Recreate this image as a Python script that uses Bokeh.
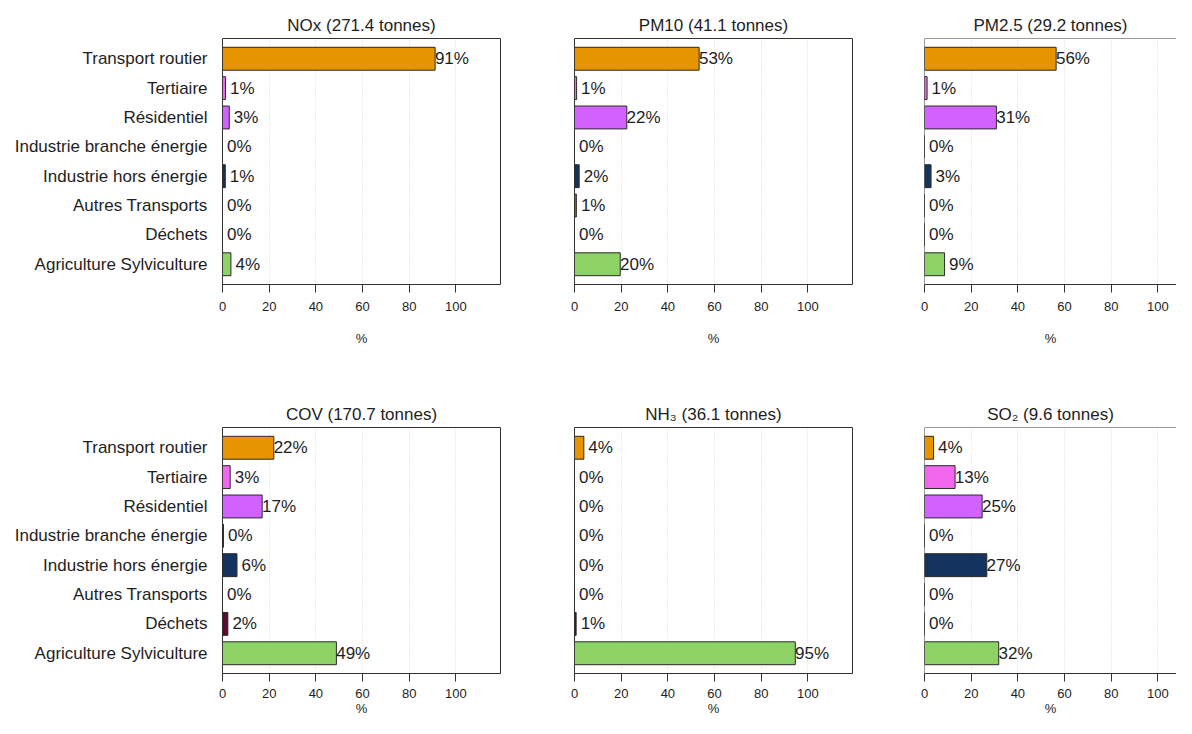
from bokeh.plotting import figure
from bokeh.models import Range1d, FixedTicker, ColumnDataSource, Span
from bokeh.layouts import row, column
from bokeh.embed import file_html
from bokeh.resources import INLINE
from bokeh.core.properties import value

categories = ["Transport routier", "Tertiaire", "Résidentiel",
              "Industrie branche énergie", "Industrie hors énergie",
              "Autres Transports", "Déchets", "Agriculture Sylviculture"]
bar_colors = ["#E69500", "#F266EE", "#D262FF", "#1A1A1A",
              "#14335F", "#9A6A10", "#5C0A2E", "#8CD264"]

titles = ["NOx (271.4 tonnes)", "PM10 (41.1 tonnes)", "PM2.5 (29.2 tonnes)",
          "COV (170.7 tonnes)", "NH\u2083 (36.1 tonnes)", "SO\u2082 (9.6 tonnes)"]

nox = [91.1, 1.3, 2.9, 0.0, 1.2, 0.0, 0.0, 3.6]
pm10 = [53.4, 0.9, 22.4, 0.0, 2.0, 0.8, 0.0, 19.6]
pm25 = [56.4, 1.1, 30.8, 0.0, 2.8, 0.0, 0.0, 8.6]
cov = [22.0, 3.3, 17.0, 0.4, 6.2, 0.0, 2.3, 48.8]
nh3 = [4.0, 0.0, 0.0, 0.0, 0.0, 0.0, 0.7, 94.6]
so2 = [3.9, 13.1, 24.7, 0.0, 26.7, 0.0, 0.0, 31.8]

x_ticks = [0, 20, 40, 60, 80, 100]
grid_ticks = [20, 40, 60, 80, 100]

FONT = "Liberation Sans"
TXT = "#1e1e1e"
PXU = 2.334          # pixels per percent unit
LABEL_SHIFT = 7.2    # label centre offset from bar end (units)

col_cfg = [  # width, min_border_left, min_border_right
    (520, 222, 20),
    (352, 54, 20),
    (304, 52, 0),
]
row_cfg = [  # height, top, bottom
    (389, 38, 105),
    (329, 38, 45),
]


def make_panel(title, vals, ci, ri):
    w, bl, br = col_cfg[ci]
    h, bt, bb = row_cfg[ri]
    fw = w - bl - br
    n = len(categories)
    ypos = [n - 1 - i for i in range(n)]
    p = figure(width=w, height=h, output_backend="svg", toolbar_location=None,
               x_range=Range1d(0, fw / PXU), y_range=Range1d(-0.69, n - 1 + 0.69),
               min_border_left=bl, min_border_right=br,
               min_border_top=bt, min_border_bottom=bb,
               y_axis_location="left" if ci == 0 else None,
               background_fill_color="white", border_fill_color="white")
    src = ColumnDataSource(dict(
        y=ypos, v=vals, color=bar_colors,
        lx=[v + LABEL_SHIFT for v in vals],
        lab=[f"{round(v)}%" for v in vals],
    ))
    p.hbar(y="y", left=0, right="v", height=0.78, source=src,
           fill_color="color", line_color="#2a2a2a", line_width=1)
    p.text(x="lx", y="y", text="lab", source=src, text_align="center",
           text_baseline="middle", text_font=value(FONT),
           text_font_size="17px", text_color=TXT)

    p.title.text = title
    p.title.align = "center"
    p.title.text_font = FONT
    p.title.text_font_size = "17px"
    p.title.text_font_style = "normal"
    p.title.text_color = TXT
    p.title.standoff = 7

    xa = p.xaxis[0]
    xa.ticker = FixedTicker(ticks=x_ticks)
    xa.major_label_text_font = FONT
    xa.major_label_text_font_size = "13px"
    xa.major_label_text_color = TXT
    xa.major_tick_out = 8
    xa.major_tick_in = 0
    xa.minor_tick_out = 0
    xa.minor_tick_in = 0
    xa.major_tick_line_color = "#333333"
    xa.axis_line_color = "#333333"
    xa.major_label_standoff = 9 if ri == 0 else 7
    xa.axis_label = "%"
    xa.axis_label_text_font = FONT
    xa.axis_label_text_font_size = "13px"
    xa.axis_label_text_font_style = "normal"
    xa.axis_label_text_color = TXT
    xa.axis_label_standoff = 17 if ri == 0 else 0

    if ci == 0:
        ya = p.yaxis[0]
        ya.ticker = FixedTicker(ticks=ypos)
        ya.major_label_overrides = {yv: c for yv, c in zip(ypos, categories)}
        ya.major_label_text_font = FONT
        ya.major_label_text_font_size = "17px"
        ya.major_label_text_color = TXT
        ya.major_tick_out = 0
        ya.major_tick_in = 0
        ya.minor_tick_out = 0
        ya.minor_tick_in = 0
        ya.axis_line_color = None
        ya.major_label_standoff = 15

    p.xgrid.ticker = FixedTicker(ticks=grid_ticks)
    p.xgrid.grid_line_color = "#d8d8d8"
    p.xgrid.grid_line_dash = "1 2"
    p.ygrid.visible = False

    if ci == 2:
        p.outline_line_color = None
        p.add_layout(Span(location=n - 1 + 0.69, dimension="width",
                          line_color="#333333", line_width=1))
        p.add_layout(Span(location=0, dimension="height",
                          line_color="#333333", line_width=1))
    else:
        p.outline_line_color = "#333333"
        p.outline_line_width = 1
        p.outline_line_alpha = 1
    return p


series = [nox, pm10, pm25, cov, nh3, so2]
panels = [make_panel(titles[k], series[k], k % 3, k // 3) for k in range(6)]
layout = column(row(*panels[:3]), row(*panels[3:]))

open("out.html", "w").write(file_html(layout, INLINE))
